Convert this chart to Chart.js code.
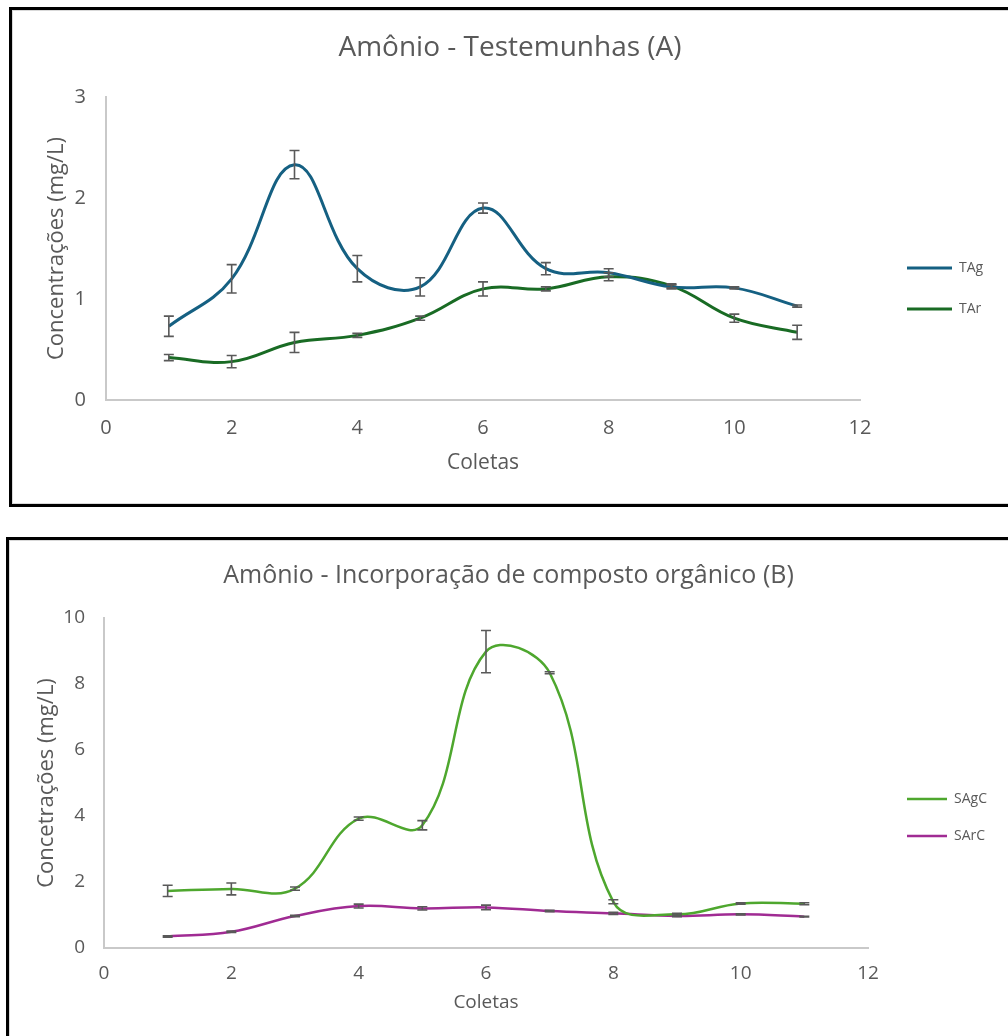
<!DOCTYPE html>
<html>
<head>
<meta charset="utf-8">
<script src="https://cdn.jsdelivr.net/npm/chart.js@4.4.1/dist/chart.umd.min.js"></script>
<style>
  body { margin: 0; background: #fff; width: 1008px; height: 1036px; overflow: hidden; position: relative; }
  .box { position: absolute; border: 3px solid #000; background: #fff; box-shadow: inset 0 0 0 1px #d9d9d9; }
  #boxA { left: 9px; top: 7px; width: 1020px; height: 494px; }
  #boxB { left: 6px; top: 537px; width: 1020px; height: 520px; }
  canvas { position: absolute; left: 0; top: 0; }
</style>
</head>
<body>
<div class="box" id="boxA"><canvas id="chartA" width="996" height="494"></canvas></div>
<div class="box" id="boxB"><canvas id="chartB" width="999" height="496"></canvas></div>
<script>
const coletas = [1, 2, 3, 4, 5, 6, 7, 8, 9, 10, 11];

// Amônio - Testemunhas (A)
const tag    = [0.73, 1.20, 2.33, 1.30, 1.12, 1.90, 1.30, 1.26, 1.12, 1.11, 0.93];
const tagErr = [0.10, 0.14, 0.14, 0.13, 0.09, 0.05, 0.06, 0.04, 0.02, 0.01, 0.01];
const tar    = [0.42, 0.38, 0.57, 0.64, 0.81, 1.10, 1.10, 1.22, 1.13, 0.81, 0.67];
const tarErr = [0.03, 0.06, 0.10, 0.02, 0.02, 0.07, 0.02, 0.04, 0.02, 0.04, 0.07];

// Amônio - Incorporação de composto orgânico (B)
const sagc    = [1.73, 1.79, 1.80, 3.92, 3.72, 8.98, 8.34, 1.40, 1.02, 1.35, 1.34];
const sagcErr = [0.17, 0.18, 0.05, 0.05, 0.14, 0.64, 0.03, 0.06, 0.03, 0.02, 0.03];
const sarc    = [0.35, 0.49, 0.97, 1.27, 1.20, 1.23, 1.12, 1.05, 0.97, 1.02, 0.95];
const sarcErr = [0.02, 0.02, 0.02, 0.06, 0.05, 0.07, 0.02, 0.03, 0.02, 0.02, 0.01];

const xTicks = [0, 2, 4, 6, 8, 10, 12];

const TEXT = "#595959";
const AXIS = "#c9c9c9";
Chart.defaults.font.family = "'Open Sans', Roboto, sans-serif";
Chart.defaults.color = TEXT;

const pts = ys => ys.map((y, i) => ({ x: coletas[i], y: y }));

// error bars drawn with the chart's own scales
const errorBars = {
    id: "errorBars",
    afterDatasetsDraw(chart) {
        const ctx = chart.ctx;
        const xs = chart.scales.x, ys = chart.scales.y;
        ctx.save();
        ctx.strokeStyle = "#595959";
        ctx.lineWidth = 1.6;
        chart.data.datasets.forEach(ds => {
            ds.data.forEach((p, i) => {
                const e = ds.err[i];
                const x = xs.getPixelForValue(p.x);
                const y1 = ys.getPixelForValue(p.y + e);
                const y2 = ys.getPixelForValue(p.y - e);
                ctx.beginPath();
                ctx.moveTo(x, y1); ctx.lineTo(x, y2);
                ctx.moveTo(x - 5, y1); ctx.lineTo(x + 5, y1);
                ctx.moveTo(x - 5, y2); ctx.lineTo(x + 5, y2);
                ctx.stroke();
            });
        });
        ctx.restore();
    }
};

// place the legend next to the plot like the Excel original
const legendPlace = {
    id: "legendPlace",
    beforeDraw(chart, args, opts) {
        const lg = chart.legend;
        const pad = chart.options.plugins.legend.labels.padding;
        const fs = chart.options.plugins.legend.labels.font.size;
        lg.left = opts.x - pad;
        lg.right = lg.left + 120;
        lg.width = 120;
        lg.top = opts.y - pad - fs / 2;
        lg.bottom = lg.top + 300;
        lg.height = 300;
    }
};

function makeChart(id, cfg) {
    const ds = cfg.series.map(s => ({
        label: s.label,
        data: pts(s.values),
        err: s.err,
        borderColor: s.color,
        backgroundColor: s.color,
        borderWidth: cfg.lineWidth,
        pointRadius: 0,
        tension: 0.4,
        fill: false,
        yAxisID: "y"
    }));
    return new Chart(document.getElementById(id), {
        type: "line",
        data: { datasets: ds },
        plugins: [errorBars, legendPlace],
        options: {
            responsive: false,
            animation: false,
            devicePixelRatio: 1,
            layout: { padding: 0 },
            plugins: {
                title: {
                    display: true,
                    text: cfg.title,
                    color: TEXT,
                    font: { size: cfg.titleSize, weight: "normal" },
                    padding: cfg.titlePad
                },
                legend: {
                    position: "right",
                    align: "start",
                    maxWidth: 1,
                    labels: {
                        boxWidth: cfg.legendBox,
                        boxHeight: 0,
                        padding: cfg.legendGap,
                        color: TEXT,
                        font: { size: 14 }
                    }
                },
                legendPlace: cfg.legendAt,
                tooltip: { enabled: false }
            },
            scales: {
                x: {
                    type: "linear",
                    min: 0, max: 12,
                    afterBuildTicks: s => { s.ticks = xTicks.map(v => ({ value: v })); },
                    afterFit: s => { s.height = cfg.xHeight; s.paddingLeft = 0; s.paddingRight = 0; },
                    grid: { display: false, drawTicks: false },
                    border: { color: AXIS, width: 2 },
                    ticks: { padding: cfg.xTickPad, font: { size: cfg.tickSize }, color: TEXT, maxRotation: 0 },
                    title: { display: true, text: "Coletas", color: TEXT, font: { size: cfg.xTitleSize }, padding: { top: 0, bottom: cfg.xTitlePad } }
                },
                y: {
                    min: 0, max: cfg.yMax,
                    afterBuildTicks: s => { s.ticks = cfg.yTicks.map(v => ({ value: v })); },
                    afterFit: s => { s.width = cfg.yWidth; s.paddingTop = 0; s.paddingBottom = 0; },
                    grid: { display: false, drawTicks: false },
                    border: { color: AXIS, width: 2 },
                    ticks: { padding: cfg.yTickPad, font: { size: cfg.tickSize }, color: TEXT },
                    title: { display: true, text: cfg.yTitle, color: TEXT, font: { size: cfg.yTitleSize }, padding: { top: cfg.yTitlePad, bottom: 0 } }
                },
                // empty right-hand strip that holds room for the legend
                legendRoom: {
                    position: "right",
                    min: 0, max: cfg.yMax,
                    afterFit: s => { s.width = cfg.rightRoom; },
                    grid: { display: false, drawTicks: false },
                    border: { display: false },
                    ticks: { display: false }
                }
            }
        }
    });
}

makeChart("chartA", {
    title: "Amônio - Testemunhas (A)",
    titleSize: 28,
    titlePad: { top: 21.2, bottom: 32.2 },
    yTitle: "Concentrações (mg/L)",
    yTitleSize: 22,
    xTitleSize: 21,
    tickSize: 20,
    yMax: 3,
    yTicks: [0, 1, 2, 3],
    yWidth: 94,
    yTickPad: 20,
    yTitlePad: 31.8,
    xHeight: 104,
    xTickPad: 16,
    xTitlePad: 28.4,
    rightRoom: 147,
    lineWidth: 3,
    legendBox: 45,
    legendGap: 27,
    legendAt: { x: 895, y: 258 },
    series: [
        { label: "TAg", values: tag, err: tagErr, color: "#156082" },
        { label: "TAr", values: tar, err: tarErr, color: "#196B24" }
    ]
});

makeChart("chartB", {
    title: "Amônio - Incorporação de composto orgânico (B)",
    titleSize: 25,
    titlePad: { top: 21, bottom: 27 },
    yTitle: "Concetrações (mg/L)",
    yTitleSize: 22,
    xTitleSize: 19,
    tickSize: 19,
    yMax: 10,
    yTicks: [0, 2, 4, 6, 8, 10],
    yWidth: 95,
    yTickPad: 19,
    yTitlePad: 24.8,
    xHeight: 88,
    xTickPad: 14.6,
    xTitlePad: 21.6,
    rightRoom: 139,
    lineWidth: 2.5,
    legendBox: 40,
    legendGap: 23,
    legendAt: { x: 898, y: 259 },
    series: [
        { label: "SAgC", values: sagc, err: sagcErr, color: "#4EA72E" },
        { label: "SArC", values: sarc, err: sarcErr, color: "#A02B93" }
    ]
});
</script>
</body>
</html>
